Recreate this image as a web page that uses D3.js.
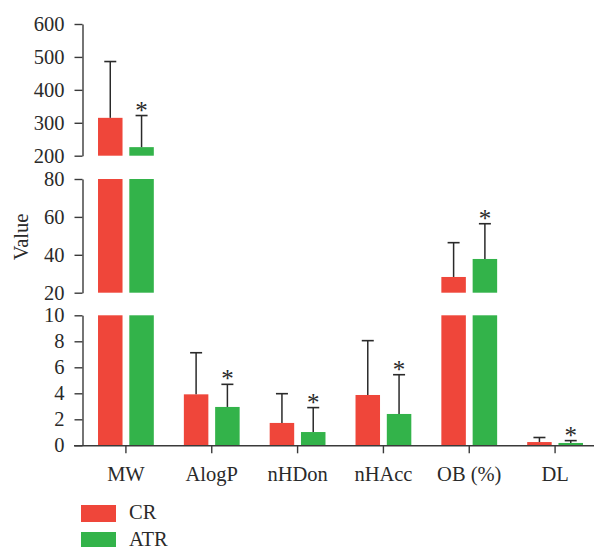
<!DOCTYPE html>
<html>
<head>
<meta charset="utf-8">
<script src="https://cdn.jsdelivr.net/npm/d3@7"></script>
<style>
html,body{margin:0;padding:0;background:#fff;}
svg{display:block;}
text{font-family:"Liberation Serif","Times New Roman",serif;fill:#2a2a2a;}
</style>
</head>
<body>
<svg id="chart" width="594" height="547"></svg>
<script>
const categories = ["MW", "AlogP", "nHDon", "nHAcc", "OB (%)", "DL"];
const seriesNames = ["CR", "ATR"];
const crMean = [315, 3.92, 1.72, 3.87, 28.3, 0.25];
const crErr  = [486, 7.12, 3.97, 8.05, 46.4, 0.60];
const atrMean = [226, 2.95, 1.02, 2.41, 37.8, 0.18];
const atrErr  = [322, 4.69, 2.90, 5.43, 56.4, 0.36];
const colors = ["#ef463a", "#33b34a"];
const ticksBottom = [0, 2, 4, 6, 8, 10];
const ticksMiddle = [20, 40, 60, 80];
const ticksTop = [200, 300, 400, 500, 600];

const svg = d3.select("#chart");
const axisColor = "#3a3a3a";
const fs = 20.5;

const x0 = d3.scaleBand().domain(categories).range([83, 598]).paddingInner(0.35).paddingOuter(0.175);
const x1 = d3.scaleBand().domain(seriesNames).range([0, x0.bandwidth()]).paddingInner(0.217);

const segs = [
  {lo: 0, hi: 10, y: d3.scaleLinear().domain([0, 10]).range([445.3, 315.3]), ticks: ticksBottom},
  {lo: 20, hi: 80, y: d3.scaleLinear().domain([20, 80]).range([292.7, 179]), ticks: ticksMiddle},
  {lo: 200, hi: 600, y: d3.scaleLinear().domain([200, 600]).range([155.7, 24]), ticks: ticksTop}
];
function segOf(v){ for (const s of segs) if (v <= s.hi) return s; return segs[2]; }

const data = [];
categories.forEach((c, i) => {
  data.push({cat: c, s: "CR", mean: crMean[i], err: crErr[i], color: colors[0], star: false});
  data.push({cat: c, s: "ATR", mean: atrMean[i], err: atrErr[i], color: colors[1], star: true});
});

// bars, split across segments
const gBars = svg.append("g");
data.forEach(d => {
  const bx = x0(d.cat) + x1(d.s);
  segs.forEach(s => {
    if (d.mean > s.lo) {
      const top = Math.min(d.mean, s.hi);
      gBars.append("rect")
        .attr("x", bx).attr("width", x1.bandwidth())
        .attr("y", s.y(top)).attr("height", s.y(s.lo) - s.y(top))
        .attr("fill", d.color);
    }
  });
});

// error bars + asterisks
const gErr = svg.append("g");
data.forEach(d => {
  const cx = x0(d.cat) + x1(d.s) + x1.bandwidth() / 2;
  const s = segOf(d.err);
  const yT = s.y(d.err), yB = s.y(d.mean);
  gErr.append("line").attr("x1", cx).attr("x2", cx).attr("y1", yB).attr("y2", yT)
    .attr("stroke", "#2a2a2a").attr("stroke-width", 1.5);
  gErr.append("line").attr("x1", cx - 6).attr("x2", cx + 6).attr("y1", yT).attr("y2", yT)
    .attr("stroke", "#2a2a2a").attr("stroke-width", 1.6);
  if (d.star) {
    gErr.append("text").attr("x", cx).attr("y", yT + 3).attr("text-anchor", "middle")
      .attr("font-size", 25).text("*");
  }
});

// y axes
segs.forEach(s => {
  const g = svg.append("g").attr("transform", "translate(82.5,0)")
    .call(d3.axisLeft(s.y).tickValues(s.ticks).tickSize(8).tickPadding(10).tickSizeOuter(0));
  g.select(".domain").attr("stroke", axisColor).attr("stroke-width", 1.4);
  g.selectAll(".tick line").attr("stroke", axisColor).attr("stroke-width", 1.4);
  g.selectAll(".tick text").attr("font-size", fs).attr("font-family", "Liberation Serif").attr("fill", "#2a2a2a");
});

// x axis
const gx = svg.append("g").attr("transform", "translate(0,445.3)")
  .call(d3.axisBottom(x0).tickSize(8).tickPadding(13).tickSizeOuter(0));
gx.select(".domain").attr("stroke", axisColor).attr("stroke-width", 1.4)
  .attr("d", "M74,0.5H598");
gx.selectAll(".tick line").attr("stroke", axisColor).attr("stroke-width", 1.4);
gx.selectAll(".tick text").attr("font-size", fs).attr("font-family", "Liberation Serif").attr("fill", "#2a2a2a");

// y label
svg.append("text").attr("transform", "translate(28,237) rotate(-90)")
  .attr("text-anchor", "middle").attr("font-size", fs).text("Value");

// legend
seriesNames.forEach((n, i) => {
  const ly = 505 + i * 27;
  svg.append("rect").attr("x", 81).attr("y", ly).attr("width", 35).attr("height", 17).attr("fill", colors[i]);
  svg.append("text").attr("x", 129).attr("y", ly + 13.5).attr("font-size", fs).text(n);
});
</script>
</body>
</html>
